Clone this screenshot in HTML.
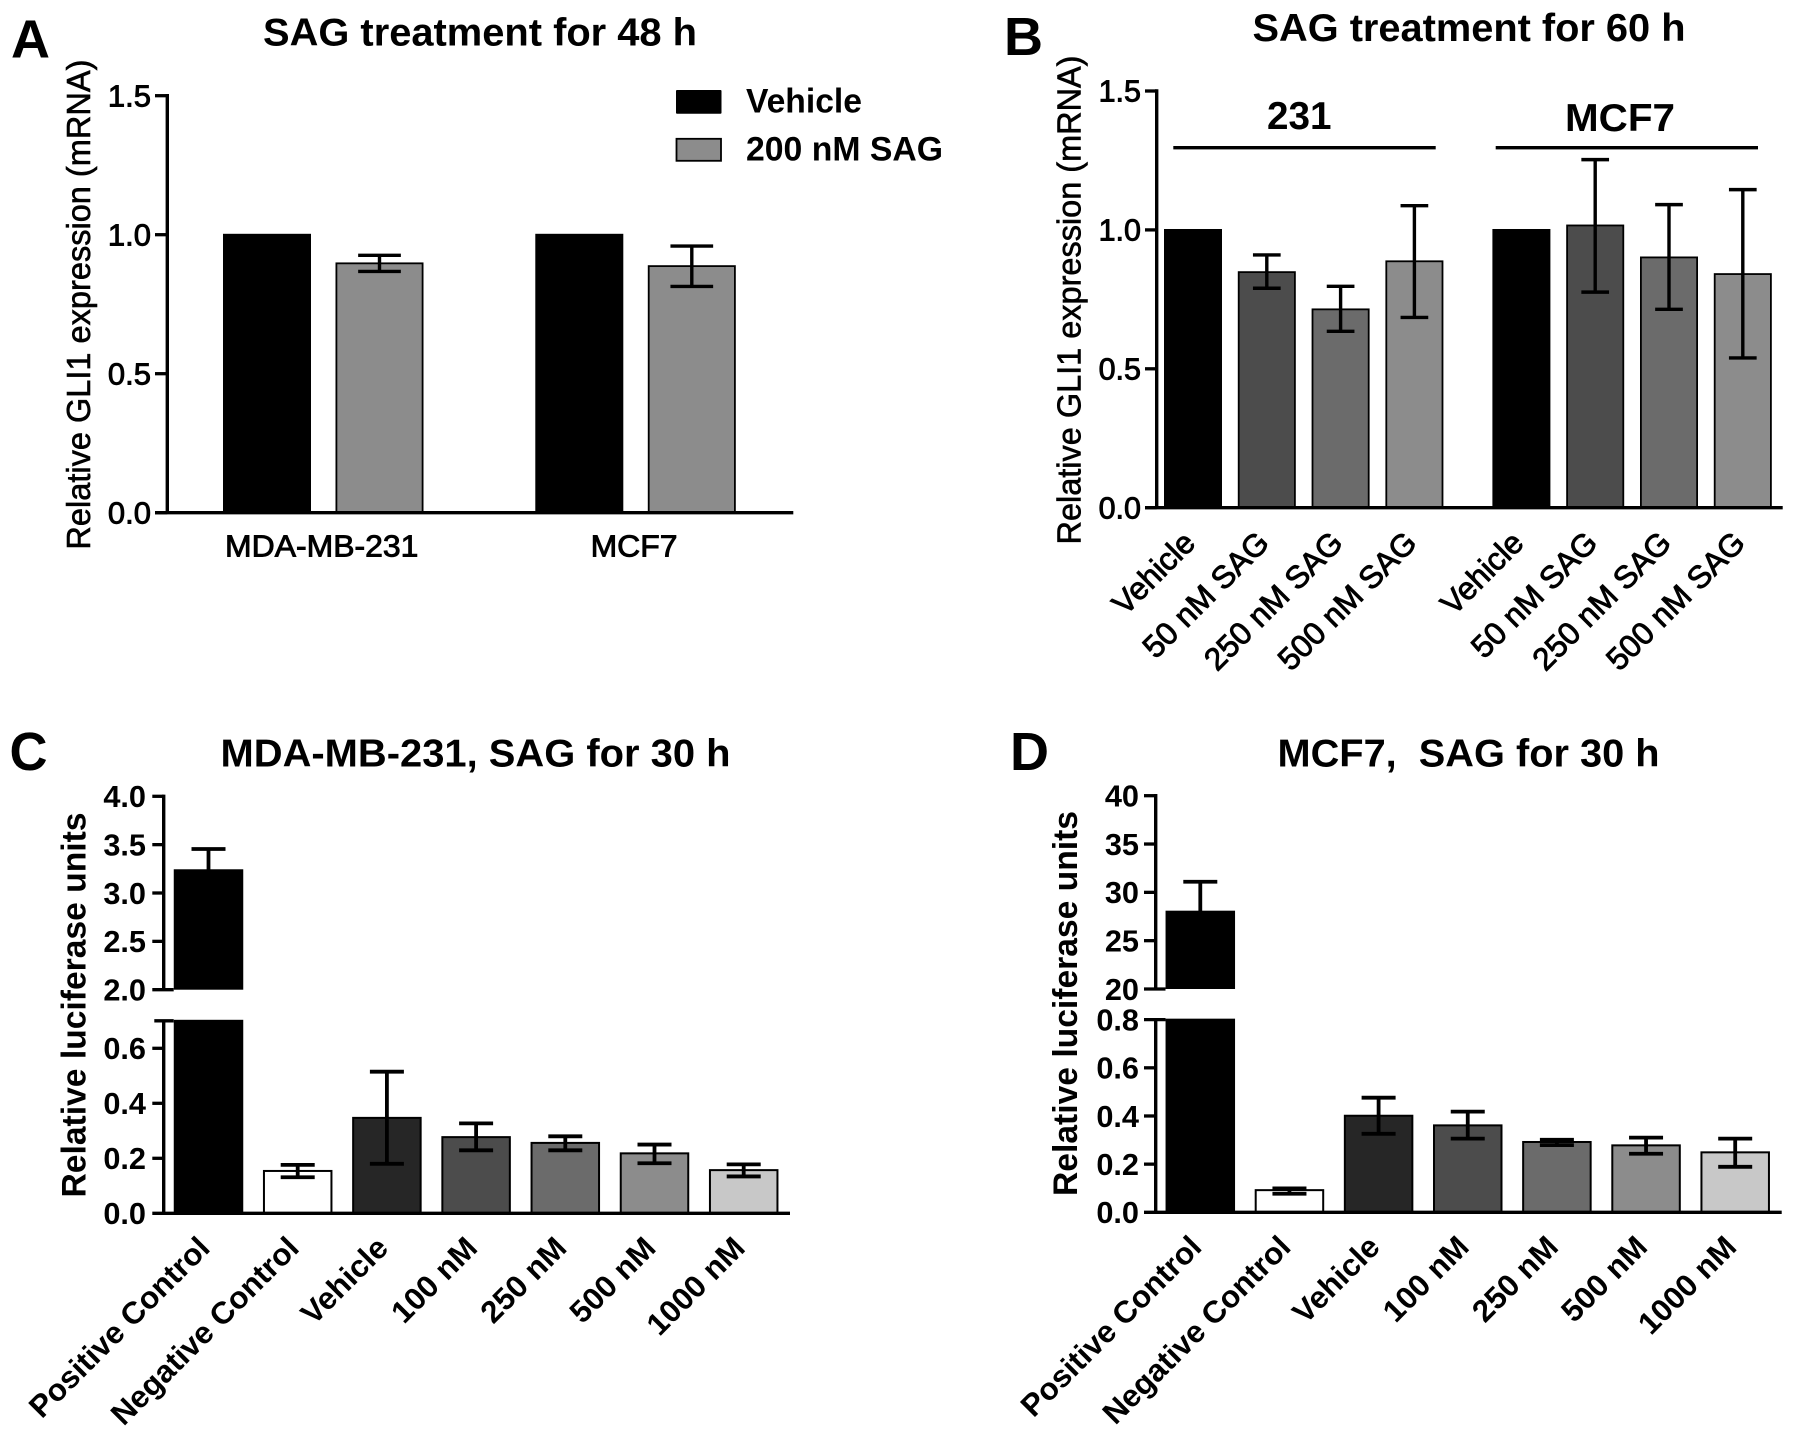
<!DOCTYPE html>
<html lang="en">
<head>
<meta charset="utf-8">
<title>SAG treatment GLI1 expression and luciferase panels</title>
<style>
html,body{margin:0;padding:0;background:#fff;}
svg{display:block;}
text{font-family:"Liberation Sans",sans-serif;fill:#000;}
.bold{font-weight:700;}
.reg{font-weight:400;stroke:#000;stroke-width:.6px;}
.semi{font-weight:400;stroke:#000;stroke-width:.9px;}
</style>
</head>
<body>
<svg id="figure" xmlns="http://www.w3.org/2000/svg" width="1795" height="1439" viewBox="0 0 1795 1439">
  <rect x="0" y="0" width="1795" height="1439" fill="#fff"/>

  <text class="bold" x="11" y="57.5" font-size="54" textLength="39" lengthAdjust="spacingAndGlyphs">A</text>
  <text class="bold" x="1004" y="55" font-size="54" textLength="39" lengthAdjust="spacingAndGlyphs">B</text>
  <text class="bold" x="9.5" y="770" font-size="54" textLength="38" lengthAdjust="spacingAndGlyphs">C</text>
  <text class="bold" x="1010" y="770" font-size="54" textLength="39" lengthAdjust="spacingAndGlyphs">D</text>

  <text class="bold" x="263" y="45.5" font-size="39" textLength="434" lengthAdjust="spacingAndGlyphs">SAG treatment for 48 h</text>
  <text class="bold" x="1252.5" y="41" font-size="39" textLength="433" lengthAdjust="spacingAndGlyphs">SAG treatment for 60 h</text>
  <text class="bold" x="220.5" y="766.5" font-size="39" textLength="510" lengthAdjust="spacingAndGlyphs">MDA-MB-231, SAG for 30 h</text>
  <text class="bold" x="1277.5" y="766.5" font-size="39" textLength="382" lengthAdjust="spacingAndGlyphs">MCF7,&#160; SAG for 30 h</text>

  <text class="reg" transform="translate(90 549.6) rotate(-90)" font-size="33.5" textLength="490" lengthAdjust="spacingAndGlyphs">Relative GLI1 expression (mRNA)</text>
  <text class="reg" transform="translate(1080.4 544.5) rotate(-90)" font-size="33.5" textLength="489" lengthAdjust="spacingAndGlyphs">Relative GLI1 expression (mRNA)</text>
  <text class="bold" transform="translate(85.5 1197.5) rotate(-90)" font-size="34.5" textLength="385" lengthAdjust="spacingAndGlyphs">Relative luciferase units</text>
  <text class="bold" transform="translate(1077 1196) rotate(-90)" font-size="34.5" textLength="385" lengthAdjust="spacingAndGlyphs">Relative luciferase units</text>

  <g>
    <rect x="676" y="90" width="45.5" height="23.7" rx="1" fill="#000"/>
    <text class="bold" x="746" y="112.3" font-size="34" textLength="116" lengthAdjust="spacingAndGlyphs">Vehicle</text>
    <rect x="676.5" y="138.8" width="44.5" height="22" fill="#8c8c8c" stroke="#000" stroke-width="1.8"/>
    <text class="bold" x="746" y="160.3" font-size="34" textLength="197" lengthAdjust="spacingAndGlyphs">200 nM SAG</text>
  </g>

  <g>
    <text class="bold" x="1267" y="129" font-size="39" textLength="64.5" lengthAdjust="spacingAndGlyphs">231</text>
    <rect x="1173.3" y="146" width="262.4" height="3.4" fill="#000"/>
  </g>
  <g>
    <text class="bold" x="1565" y="131" font-size="39" textLength="110" lengthAdjust="spacingAndGlyphs">MCF7</text>
    <rect x="1495.7" y="146" width="262.3" height="3.4" fill="#000"/>
  </g>

  <g id="plots"></g>
</svg>

<script>
/* Panel A: GLI1 mRNA, SAG 48 h */
const panelACategories = ['MDA-MB-231', 'MCF7'];
const panelASeries = ['Vehicle', '200 nM SAG', 'Vehicle', '200 nM SAG'];
const panelAValues = [1.0, 0.897, 1.0, 0.887];
const panelAHigh = [null, 0.926, null, 0.959];
const panelALow = [null, 0.868, null, 0.814];
const panelATicks = ['0.0', '0.5', '1.0', '1.5'];

/* Panel B: GLI1 mRNA, SAG 60 h */
const panelBCategories = ['Vehicle', '50 nM SAG', '250 nM SAG', '500 nM SAG', 'Vehicle', '50 nM SAG', '250 nM SAG', '500 nM SAG'];
const panelBValues = [1.0, 0.848, 0.714, 0.887, 1.0, 1.016, 0.901, 0.841];
const panelBHigh = [null, 0.910, 0.797, 1.087, null, 1.253, 1.091, 1.145];
const panelBLow = [null, 0.790, 0.635, 0.685, null, 0.776, 0.714, 0.539];
const panelBTicks = ['0.0', '0.5', '1.0', '1.5'];

/* Panel C: luciferase, MDA-MB-231 */
const panelCCategories = ['Positive Control', 'Negative Control', 'Vehicle', '100 nM', '250 nM', '500 nM', '1000 nM'];
const panelCValues = [3.235, 0.154, 0.347, 0.277, 0.256, 0.218, 0.157];
const panelCHigh = [3.455, 0.176, 0.515, 0.327, 0.280, 0.250, 0.178];
const panelCLow = [3.015, 0.131, 0.180, 0.229, 0.229, 0.182, 0.134];
const panelCLowerTicks = ['0.0', '0.2', '0.4', '0.6'];
const panelCUpperTicks = ['2.0', '2.5', '3.0', '3.5', '4.0'];

/* Panel D: luciferase, MCF7 */
const panelDCategories = ['Positive Control', 'Negative Control', 'Vehicle', '100 nM', '250 nM', '500 nM', '1000 nM'];
const panelDValues = [28.0, 0.092, 0.401, 0.361, 0.292, 0.278, 0.249];
const panelDHigh = [31.1, 0.099, 0.476, 0.418, 0.301, 0.310, 0.306];
const panelDLow = [24.9, 0.077, 0.326, 0.306, 0.279, 0.243, 0.189];
const panelDLowerTicks = ['0.0', '0.2', '0.4', '0.6', '0.8'];
const panelDUpperTicks = ['20', '25', '30', '35', '40'];

/* Fill palettes, separate from the values */
const fillsA = ['#000000', '#8c8c8c', '#000000', '#8c8c8c'];
const fillsB = ['#000000', '#4c4c4c', '#6b6b6b', '#8c8c8c', '#000000', '#4c4c4c', '#6b6b6b', '#8c8c8c'];
const fillsCD = ['#000000', '#ffffff', '#262626', '#4c4c4c', '#6b6b6b', '#8c8c8c', '#c8c8c8'];

const SVGNS = 'http://www.w3.org/2000/svg';
const root = document.getElementById('plots');

function make(tag, attrs, parent) {
  const node = document.createElementNS(SVGNS, tag);
  for (const key in attrs) node.setAttribute(key, attrs[key]);
  parent.appendChild(node);
  return node;
}
function linearScale(d0, d1, r0, r1) {
  return function (v) { return r0 + (v - d0) * (r1 - r0) / (d1 - d0); };
}
function stretch(node, factor) {
  const len = node.getComputedTextLength();
  node.setAttribute('textLength', (len * factor).toFixed(2));
  node.setAttribute('lengthAdjust', 'spacingAndGlyphs');
}
function slug(s) {
  return s.toLowerCase().replace(/[^a-z0-9]+/g, '-');
}

function drawBar(g, x, yTop, yBottom, width, fill, strokeWidth, name) {
  const bar = make('rect', {
    x: x - width / 2 + strokeWidth / 2,
    y: yTop,
    width: width - strokeWidth,
    height: yBottom - yTop,
    fill: fill,
    stroke: '#000',
    'stroke-width': strokeWidth
  }, g);
  
  
}

function drawError(g, x, yHigh, yLow, capWidth, thick, name) {
  const stem = make('line', { x1: x, x2: x, y1: yHigh, y2: yLow, stroke: '#000', 'stroke-width': thick }, g);
  
  
  const top = make('line', { x1: x - capWidth / 2, x2: x + capWidth / 2, y1: yHigh, y2: yHigh, stroke: '#000', 'stroke-width': thick }, g);
  
  
  const bottom = make('line', { x1: x - capWidth / 2, x2: x + capWidth / 2, y1: yLow, y2: yLow, stroke: '#000', 'stroke-width': thick }, g);
  
  
}

function drawTick(g, axisX, tickLeft, tickRight, y, name) {
  const tick = make('line', { x1: tickLeft, x2: tickRight === undefined ? axisX : tickRight, y1: y, y2: y, stroke: '#000', 'stroke-width': 3.3 }, g);
  
  
}

function drawTickLabel(g, label, x, y, opts) {
  const t = make('text', { x: x, y: y + opts.baseline, 'text-anchor': 'end', 'font-size': opts.size, class: opts.cls }, g);
  t.textContent = label;
  
  
  stretch(t, opts.hs);
}

function drawRotatedLabel(g, label, x, y, opts) {
  const t = make('text', { 'text-anchor': 'end', 'font-size': opts.size, class: opts.cls, transform: 'translate(' + x + ' ' + y + ') rotate(-45)' }, g);
  t.textContent = label;
  
  
  stretch(t, opts.hs);
}

function drawAxisLine(g, x1, y1, x2, y2, name) {
  const line = make('line', { x1: x1, y1: y1, x2: x2, y2: y2, stroke: '#000', 'stroke-width': 3.4 }, g);
  
  
}

/* Panel A */
(function () {
  const g = make('g', {}, root);
  
  
  const y = linearScale(0, 1.5, 512.7, 95.7);
  const axisX = 167.3;
  const xOf = function (i) { return 267 + 112.5 * i + 87.3 * Math.floor(i / 2); };
  panelAValues.forEach(function (v, i) {
    drawBar(g, xOf(i), y(v), y(0), 88, fillsA[i], 1.8, 'a-' + slug(panelACategories[Math.floor(i / 2)]) + '-' + slug(panelASeries[i]));
  });
  panelAValues.forEach(function (v, i) {
    if (panelAHigh[i] !== null) drawError(g, xOf(i), y(panelAHigh[i]), y(panelALow[i]), 42.7, 3.4, 'a-' + i);
  });
  drawAxisLine(g, axisX, y(1.5) - 1.7, axisX, y(0), 'y-axis-panel-a');
  drawAxisLine(g, 155, y(0), 793.3, y(0), 'x-axis-panel-a');
  panelATicks.forEach(function (label) {
    const tv = Number(label);
    drawTick(g, axisX, 155, undefined, y(tv), 'a-' + slug(label));
    drawTickLabel(g, label, 151, y(tv), { baseline: 10.8, size: 31, cls: 'semi', hs: 1.0 });
  });
  panelACategories.forEach(function (label, i) {
    const cx = (xOf(i * 2) + xOf(i * 2 + 1)) / 2 - 1.5;
    const t = make('text', { x: cx, y: 556.7, 'text-anchor': 'middle', 'font-size': 31, class: 'semi' }, g);
    t.textContent = label;
    
    
    stretch(t, 1.03);
  });
})();

/* Panel B */
(function () {
  const g = make('g', {}, root);
  
  
  const y = linearScale(0, 1.5, 507.7, 91);
  const axisX = 1156.7;
  const xOf = function (i) { return 1193 + 73.8 * i + 33.2 * Math.floor(i / 4); };
  panelBValues.forEach(function (v, i) {
    drawBar(g, xOf(i), y(v), y(0), 58, fillsB[i], 1.8, 'b-' + i + '-' + slug(panelBCategories[i]));
  });
  panelBValues.forEach(function (v, i) {
    if (panelBHigh[i] !== null) drawError(g, xOf(i), y(panelBHigh[i]), y(panelBLow[i]), 27.7, 3.4, 'b-' + i);
  });
  drawAxisLine(g, axisX, y(1.5) - 1.7, axisX, y(0), 'y-axis-panel-b');
  drawAxisLine(g, 1145, y(0), 1782.7, y(0), 'x-axis-panel-b');
  panelBTicks.forEach(function (label) {
    const tv = Number(label);
    drawTick(g, axisX, 1145, undefined, y(tv), 'b-' + slug(label));
    drawTickLabel(g, label, 1141, y(tv), { baseline: 10.6, size: 30.5, cls: 'semi', hs: 1.0 });
  });
  panelBCategories.forEach(function (label, i) {
    drawRotatedLabel(g, label, xOf(i) + 4, y(0) + 37, { size: 31.5, cls: 'semi', hs: 1.0 });
  });
})();

/* Broken-axis panels C and D */
function drawBrokenPanel(cfg) {
  const g = make('g', {}, root);
  
  
  const low = linearScale(0, 1, cfg.y0, cfg.y0 - cfg.lowerUnit);
  const up = linearScale(cfg.upperMin, cfg.upperMax, cfg.upperMinY, cfg.upperMaxY);
  const xOf = function (i) { return cfg.x0 + cfg.step * i; };
  const scaleFor = function (v) { return v >= cfg.upperMin ? up : low; };

  cfg.values.forEach(function (v, i) {
    const key = cfg.key + '-' + slug(cfg.categories[i]);
    if (v >= cfg.upperMin) {
      drawBar(g, xOf(i), low(cfg.breakValue), low(0), 69.5, cfg.fills[i], 2, key + '-lower');
      drawBar(g, xOf(i), up(v), up(cfg.upperMin) - 1, 69.5, cfg.fills[i], 2, key + '-upper');
    } else {
      drawBar(g, xOf(i), low(v), low(0), 69.5, cfg.fills[i], 2, key);
    }
  });
  cfg.values.forEach(function (v, i) {
    const s = scaleFor(v);
    drawError(g, xOf(i), s(cfg.high[i]), s(cfg.low[i]), 34, 3.8, cfg.key + '-' + i);
  });

  const breakRight = xOf(0) - 34.8;
  drawAxisLine(g, cfg.axisX, cfg.upperMaxY - 1.7, cfg.axisX, up(cfg.upperMin), 'y-axis-upper-' + cfg.key);
  drawAxisLine(g, cfg.axisX, low(cfg.breakValue), cfg.axisX, low(0), 'y-axis-lower-' + cfg.key);
  drawAxisLine(g, cfg.tickLeft, low(0), cfg.axisRight, low(0), 'x-axis-' + cfg.key);

  const labelOpts = { baseline: 10.8, size: 31, cls: 'bold', hs: 0.99 };
  cfg.upperTicks.forEach(function (label) {
    const tv = Number(label);
    drawTick(g, cfg.axisX, cfg.tickLeft, tv === cfg.upperMin ? breakRight : undefined, up(tv), cfg.key + '-upper-' + slug(label));
    drawTickLabel(g, label, cfg.labelRight, up(tv), labelOpts);
  });
  cfg.lowerTicks.forEach(function (label) {
    const tv = Number(label);
    if (tv === 0 || tv === cfg.breakValue) return;
    drawTick(g, cfg.axisX, cfg.tickLeft, undefined, low(tv), cfg.key + '-lower-' + slug(label));
  });
  drawTick(g, cfg.axisX, cfg.tickLeft + cfg.breakInset, breakRight, low(cfg.breakValue), cfg.key + '-break');
  cfg.lowerTicks.forEach(function (label) {
    drawTickLabel(g, label, cfg.labelRight, low(Number(label)), labelOpts);
  });
  cfg.categories.forEach(function (label, i) {
    drawRotatedLabel(g, label, xOf(i) + 3, low(0) + 36.5, { size: 31, cls: 'bold', hs: 1.01 });
  });
}

drawBrokenPanel({
  name: 'panel-c', key: 'c',
  categories: panelCCategories, values: panelCValues, high: panelCHigh, low: panelCLow,
  lowerTicks: panelCLowerTicks, upperTicks: panelCUpperTicks, fills: fillsCD,
  axisX: 163.7, tickLeft: 152.3, labelRight: 146, axisRight: 790, breakInset: 2,
  y0: 1213.3, lowerUnit: 275, breakValue: 0.7,
  upperMin: 2, upperMax: 4, upperMinY: 989.7, upperMaxY: 796.3,
  x0: 208.5, step: 89.2
});

drawBrokenPanel({
  name: 'panel-d', key: 'd',
  categories: panelDCategories, values: panelDValues, high: panelDHigh, low: panelDLow,
  lowerTicks: panelDLowerTicks, upperTicks: panelDUpperTicks, fills: fillsCD,
  axisX: 1155.7, tickLeft: 1144, labelRight: 1139, axisRight: 1781.7, breakInset: 0,
  y0: 1212.3, lowerUnit: 240.8, breakValue: 0.8,
  upperMin: 20, upperMax: 40, upperMinY: 989, upperMaxY: 795.7,
  x0: 1200.3, step: 89.15
});
</script>
</body>
</html>
